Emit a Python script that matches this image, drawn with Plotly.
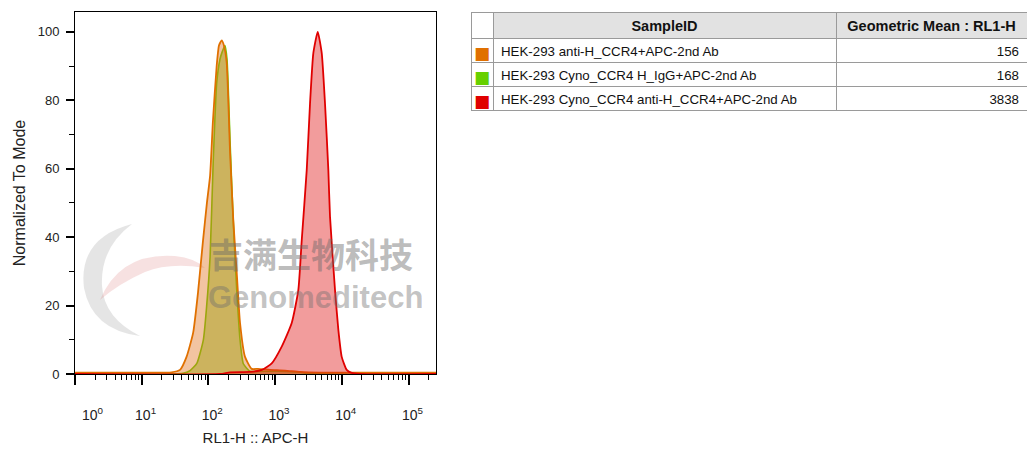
import plotly.graph_objects as go

W, H = 1027, 456

# ---------------- data ----------------
orange_x = [1, 13, 28, 37.5, 47, 59, 70, 83, 95, 106, 117, 133, 144, 158, 171, 188, 211, 236, 266, 298, 354, 446, 554, 839, 1407, 2362, 4713, 260000]
orange_y = [0.4, 0.4, 0.5, 1.2, 5, 12, 24, 39, 50, 58, 74, 90, 96, 97.5, 96, 91, 65, 45, 29.5, 14.9, 5, 1.5, 1.5, 1.2, 1.0, 0.6, 0.4, 0.4]

green_x = [1, 41.6, 53, 67, 84, 94, 106, 118, 133, 149, 160, 177, 190, 211, 224, 242, 266, 298, 334, 420, 594, 1184, 2362, 3336, 260000]
green_y = [0, 0.2, 1, 3.1, 10, 19.7, 34.3, 62, 85, 92, 94, 96, 92, 68, 55, 40, 24.5, 10, 3, 0.8, 0.8, 0.8, 0.5, 0.1, 0]

red_x = [1, 149, 211, 420, 630, 889, 1256, 1774, 2228, 2506, 2978, 3336, 3741, 4355, 5000, 5600, 6281, 6653, 7909, 8873, 9970, 11840, 14070, 18750, 260000]
red_y = [0, 0, 0.5, 0.6, 1.2, 3.1, 8, 14.9, 24.5, 39, 59.6, 79, 93.8, 100, 93.8, 79, 59.6, 46, 24.5, 12.9, 5, 1.2, 0.3, 0, 0]

sample_ids = ["HEK-293 anti-H_CCR4+APC-2nd Ab",
              "HEK-293 Cyno_CCR4 H_IgG+APC-2nd Ab",
              "HEK-293 Cyno_CCR4 anti-H_CCR4+APC-2nd Ab"]
geo_means = ["156", "168", "3838"]
sample_colors = ["#E07000", "#66D000", "#E00000"]
header_labels = ["", "SampleID", "Geometric Mean : RL1-H"]

x_tickvals = [1, 10, 100, 1000, 10000, 100000]
x_ticktext = ["\u00a0" * 9 + "10<sup>0</sup>", "\u00a0\u00a010<sup>1</sup>", "\u00a0\u00a010<sup>2</sup>",
              "\u00a0\u00a010<sup>3</sup>", "\u00a0\u00a010<sup>4</sup>", "\u00a0\u00a010<sup>5</sup>"]
y_tickvals = [0, 20, 40, 60, 80, 100]

FONT = "Liberation Sans, Arial"


def px_path(pts_cmds):
    """Convert a path written in pixel coordinates into paper coordinates (decoration only)."""
    out = []
    for tok in pts_cmds:
        if isinstance(tok, str):
            out.append(tok)
        else:
            out.append(f"{tok[0] / W:.5f},{1 - tok[1] / H:.5f}")
    return " ".join(out)


# ---------------- figure ----------------
fig = go.Figure()

fig.add_trace(go.Scatter(x=green_x, y=green_y, mode="lines", fill="tozeroy",
                         line=dict(color="#6CCC00", width=1.6, shape="spline", smoothing=0.5),
                         fillcolor="rgba(110,190,0,0.45)", showlegend=False, hoverinfo="skip"))
fig.add_trace(go.Scatter(x=orange_x, y=orange_y, mode="lines", fill="tozeroy",
                         line=dict(color="#E07000", width=1.8, shape="spline", smoothing=0.5),
                         fillcolor="rgba(225,115,30,0.42)", showlegend=False, hoverinfo="skip"))
fig.add_trace(go.Scatter(x=red_x, y=red_y, mode="lines", fill="tozeroy",
                         line=dict(color="#E00000", width=1.8, shape="spline", smoothing=0.5),
                         fillcolor="rgba(225,20,20,0.42)", showlegend=False, hoverinfo="skip"))

x0, x1 = 75, 436
y0, y1 = 12, 374
fig.update_xaxes(type="log", range=[0, 5.412], domain=[x0 / W, x1 / W], automargin=False,
                 tickmode="array", tickvals=x_tickvals, ticktext=x_ticktext,
                 ticks="outside", ticklen=10, tickwidth=2, tickcolor="black",
                 ticklabelstandoff=18,
                 minor=dict(dtick="D1", ticks="outside", ticklen=5, tickwidth=1, tickcolor="black"),
                 showline=True, linecolor="black", linewidth=1, mirror=True,
                 showgrid=False, zeroline=False, layer="below traces",
                 tickfont=dict(family=FONT, size=14, color="#222"),
                 title=dict(text="RL1-H :: APC-H", standoff=10,
                            font=dict(family=FONT, size=15, color="#222")))
fig.update_yaxes(range=[0, 105.8], domain=[1 - y1 / H, 1 - y0 / H], automargin=False,
                 tickmode="array", tickvals=y_tickvals,
                 ticks="outside", ticklen=8, tickwidth=2, tickcolor="black",
                 ticklabelstandoff=4,
                 minor=dict(dtick=10, ticks="outside", ticklen=5, tickwidth=1, tickcolor="black"),
                 showline=True, linecolor="black", linewidth=1, mirror=True,
                 showgrid=False, zeroline=False, layer="below traces",
                 tickfont=dict(family=FONT, size=13, color="#222"),
                 title=dict(text="Normalized To Mode", standoff=8,
                            font=dict(family=FONT, size=16, color="#222")))

# ---------------- statistics table ----------------
fig.add_trace(go.Table(
    domain=dict(x=[471 / W, 1.0], y=[0.3, 1 - 12 / H]),
    columnwidth=[22, 343, 191],
    header=dict(values=header_labels,
                fill_color=["white", "#e2e2e2", "#e2e2e2"],
                line=dict(color="#9a9a9a", width=1),
                align="center", height=26,
                font=dict(family=FONT, size=14.5, color="#111", weight="bold")),
    cells=dict(values=[["\u25a0"] * len(sample_ids), sample_ids, geo_means],
               fill_color="white",
               line=dict(color="#9a9a9a", width=1),
               align=["center", "left", "right"], height=24,
               font=dict(family=["DejaVu Sans", FONT, FONT], size=[17, 13.3, 13.3],
                         color=[sample_colors, ["#111"] * 3, ["#111"] * 3]))
))

# ---------------- watermark (logo + text) ----------------
fig.add_shape(type="path", xref="paper", yref="paper", layer="below",
              path=px_path(["M", (132, 224), "Q", (78, 238), (84, 288), "Q", (92, 330), (140, 336),
                            "Q", (104, 318), (102, 286), "Q", (100, 248), (132, 224), "Z"]),
              fillcolor="rgba(150,150,150,0.25)", line=dict(width=0))
fig.add_shape(type="path", xref="paper", yref="paper", layer="below",
              path=px_path(["M", (100, 300), "Q", (120, 252), (175, 256), "Q", (195, 258), (205, 268),
                            "Q", (170, 262), (145, 272), "Q", (118, 284), (100, 300), "Z"]),
              fillcolor="rgba(220,120,120,0.22)", line=dict(width=0))
fig.add_annotation(text="<b>吉满生物科技</b>", x=311 / W, y=1 - 254 / H, xref="paper", yref="paper",
                   xanchor="center", yanchor="middle",
                   showarrow=False, font=dict(family="Noto Sans CJK SC", size=34, color="rgba(105,105,105,0.45)"))
fig.add_annotation(text="<b>Genomeditech</b>", x=315 / W, y=1 - 297 / H, xref="paper", yref="paper",
                   xanchor="center", yanchor="middle",
                   showarrow=False, font=dict(family=FONT, size=31, color="rgba(110,110,110,0.42)"))

fig.update_layout(width=W, height=H, margin=dict(l=0, r=0, t=0, b=0),
                  paper_bgcolor="white", plot_bgcolor="rgba(0,0,0,0)",
                  showlegend=False)

fig.write_html("out.html", config={"displayModeBar": False},
               post_script="document.body.style.margin='0px';document.body.style.padding='0px';")
